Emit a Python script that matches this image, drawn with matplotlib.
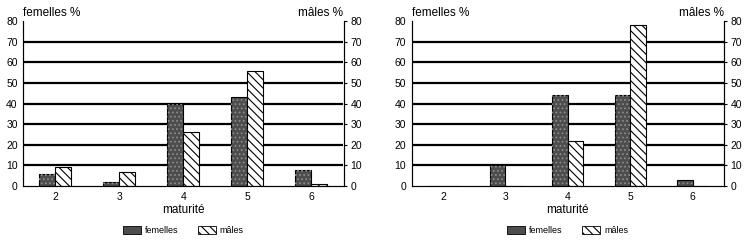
import numpy as np
import matplotlib.pyplot as plt
from matplotlib.patches import Patch

plt.rcParams['font.family'] = ['Liberation Sans', 'DejaVu Sans']
plt.rcParams['hatch.linewidth'] = 0.8

maturite = ["2", "3", "4", "5", "6"]

# left panel
femelles_a = [6, 2, 40, 43, 8]
males_a = [9, 7, 26, 56, 1]

# right panel
femelles_b = [0, 10, 44, 44, 3]
males_b = [0, 0, 22, 78, 0]

yticks = np.arange(0, 81, 10)
gridlines = np.arange(10, 71, 10)


def panel(ax, fem, mal):
    x = np.arange(len(maturite))
    w = 0.25
    ax.hlines(gridlines, -0.5, len(maturite) - 0.5, colors='black', linewidth=1.6, zorder=1)
    # females: dark stippled bars
    ax.bar(x - w / 2, fem, w, color='#4d4d4d', edgecolor='black', linewidth=0.8, zorder=2)
    ax.bar(x - w / 2, fem, w, color='none', edgecolor='#8a8a8a', hatch='....', linewidth=0, zorder=3)
    # males: hatched white bars
    ax.bar(x + w / 2, mal, w, color='white', edgecolor='black', hatch='\\\\\\\\', linewidth=0.8, zorder=2)

    ax.set_xlim(-0.5, len(maturite) - 0.5)
    ax.set_ylim(0, 80)
    ax.set_xticks(x)
    ax.set_xticklabels(maturite)
    ax.set_yticks(yticks)
    ax.tick_params(axis='both', length=0, labelsize=7.5, pad=4)
    ax.spines['top'].set_visible(False)
    for s in ['left', 'right', 'bottom']:
        ax.spines[s].set_linewidth(0.8)
        ax.spines[s].set_color('#333333')

    ax2 = ax.twinx()
    ax2.set_ylim(0, 80)
    ax2.set_yticks(yticks)
    ax2.tick_params(axis='y', length=2, labelsize=7.5, pad=3)
    ax2.spines['top'].set_visible(False)
    ax2.spines['right'].set_linewidth(0.8)

    ax.set_xlabel("maturité", fontsize=8.5, labelpad=2)
    ax.text(0.0, 1.015, "femelles %", transform=ax.transAxes, fontsize=8.5, ha='left', va='bottom')
    ax.text(1.0, 1.015, "mâles %", transform=ax.transAxes, fontsize=8.5, ha='right', va='bottom')

    handles = [Patch(facecolor='#4d4d4d', edgecolor='black', linewidth=0.6),
               Patch(facecolor='white', edgecolor='black', hatch='\\\\\\\\', linewidth=0.6)]
    ax.legend(handles, ["femelles", "mâles"], loc='center', bbox_to_anchor=(0.5, -0.27),
              ncol=2, frameon=False, fontsize=6.5, handlelength=2.0, handleheight=0.9,
              handletextpad=0.4, columnspacing=2.2)


fig = plt.figure(figsize=(7.5, 2.4), dpi=100)
ax_a = fig.add_axes([0.031, 0.225, 0.427, 0.6875])
ax_b = fig.add_axes([0.549, 0.225, 0.416, 0.6875])
panel(ax_a, femelles_a, males_a)
panel(ax_b, femelles_b, males_b)

fig.savefig("out.png", dpi=100)
